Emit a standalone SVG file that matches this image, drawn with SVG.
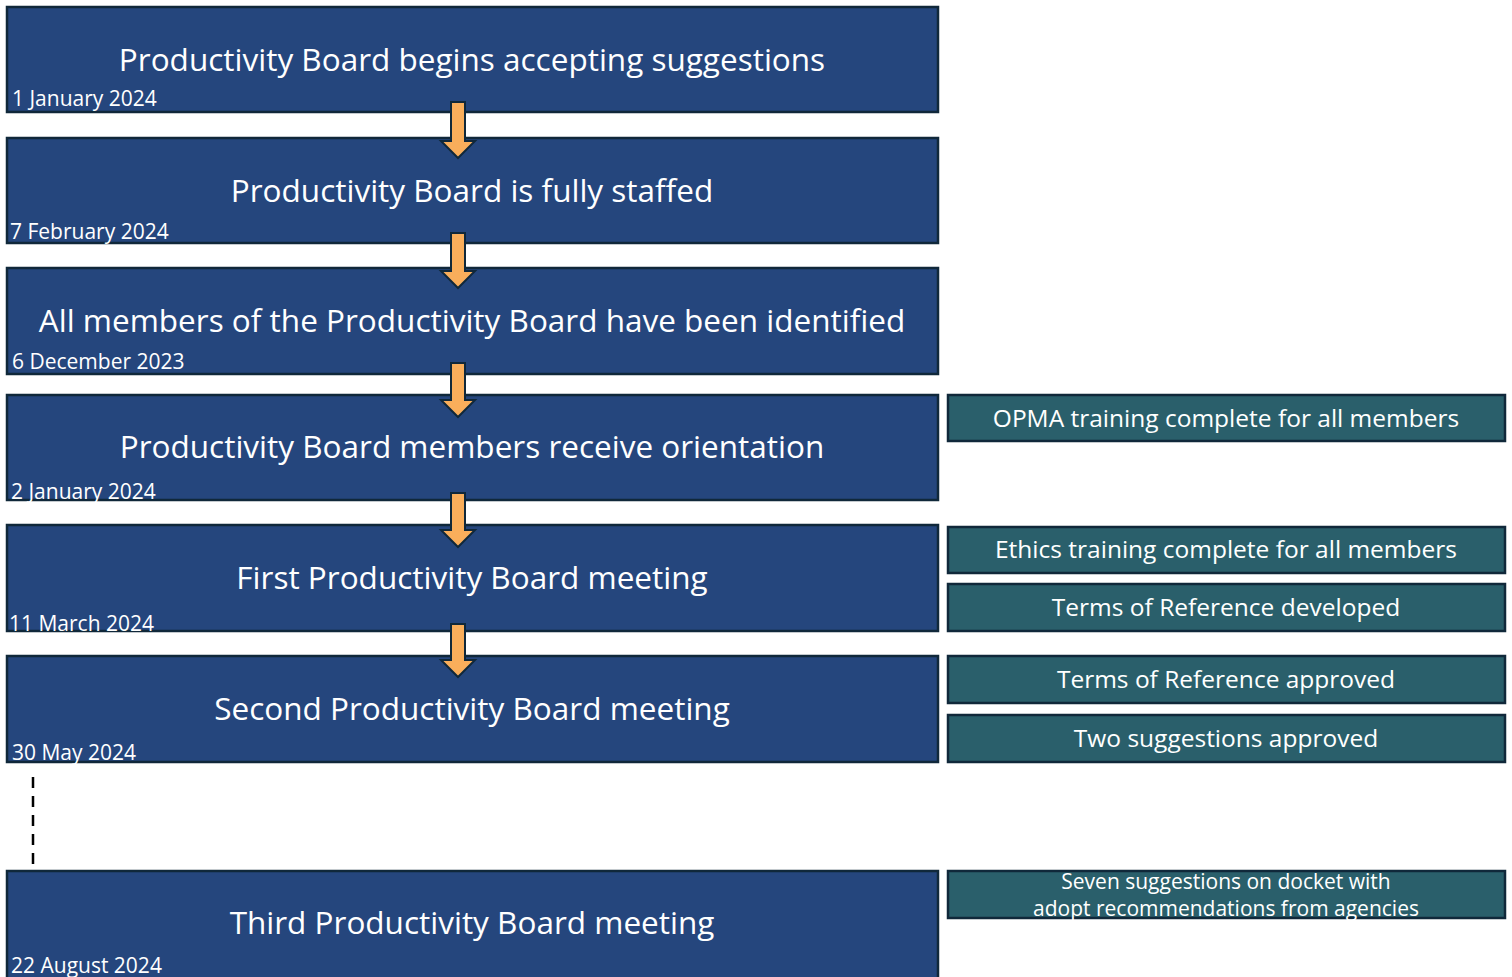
<svg xmlns="http://www.w3.org/2000/svg" width="1512" height="977" viewBox="0 0 1512 977">
<style>
.main{fill:#25467D;stroke:#10283A;stroke-width:2.5}
.side{fill:#2A5F6B;stroke:#10283A;stroke-width:2.5}
.t{font-family:"Open Sans","Liberation Sans",sans-serif;fill:#fff;text-anchor:middle;font-size:31.5px}
.d{font-family:"Open Sans","Liberation Sans",sans-serif;fill:#fff;font-size:21px}
.s{font-family:"Open Sans","Liberation Sans",sans-serif;fill:#fff;text-anchor:middle;font-size:24.5px}
.s2{font-family:"Open Sans","Liberation Sans",sans-serif;fill:#fff;text-anchor:middle;font-size:21px}
.arrow{fill:#F9AE5B;stroke:#10283A;stroke-width:2}
</style>
<rect width="1512" height="977" fill="#fff"/>
<g id="n1"><rect class="main" x="7" y="7" width="931" height="105"/><text class="t" x="472" y="71">Productivity Board begins accepting suggestions</text><text class="d" x="12" y="106">1 January 2024</text></g>
<g id="n2"><rect class="main" x="7" y="138" width="931" height="105"/><text class="t" x="472" y="202">Productivity Board is fully staffed</text><text class="d" x="10" y="239">7 February 2024</text></g>
<g id="n3"><rect class="main" x="7" y="268" width="931" height="106"/><text class="t" x="472" y="332">All members of the Productivity Board have been identified</text><text class="d" x="12" y="369">6 December 2023</text></g>
<g id="n4"><rect class="main" x="7" y="395" width="931" height="105"/><text class="t" x="472" y="458">Productivity Board members receive orientation</text><text class="d" x="11" y="499">2 January 2024</text></g>
<g id="n5"><rect class="main" x="7" y="525" width="931" height="106"/><text class="t" x="472" y="589">First Productivity Board meeting</text><text class="d" x="9" y="631">11 March 2024</text></g>
<g id="n6"><rect class="main" x="7" y="656" width="931" height="106"/><text class="t" x="472" y="720">Second Productivity Board meeting</text><text class="d" x="12" y="760">30 May 2024</text></g>
<g id="n7"><rect class="main" x="7" y="871" width="931" height="110"/><text class="t" x="472" y="934">Third Productivity Board meeting</text><text class="d" x="11" y="973">22 August 2024</text></g>
<g id="s1"><rect class="side" x="948" y="395" width="557" height="46"/><text class="s" x="1226" y="427">OPMA training complete for all members</text></g>
<g id="s2"><rect class="side" x="948" y="527" width="557" height="46"/><text class="s" x="1226" y="558">Ethics training complete for all members</text></g>
<g id="s3"><rect class="side" x="948" y="584" width="557" height="47"/><text class="s" x="1226" y="616">Terms of Reference developed</text></g>
<g id="s4"><rect class="side" x="948" y="656" width="557" height="47"/><text class="s" x="1226" y="688">Terms of Reference approved</text></g>
<g id="s5"><rect class="side" x="948" y="715" width="557" height="47"/><text class="s" x="1226" y="747">Two suggestions approved</text></g>
<g id="s6"><rect class="side" x="948" y="871" width="557" height="47"/><text class="s2" x="1226" y="889">Seven suggestions on docket with</text><text class="s2" x="1226" y="916">adopt recommendations from agencies</text></g>
<g id="connectors">
<path class="arrow" d="M451 102 H465 V141 H475 L458 158 L441 141 H451 Z"/>
<path class="arrow" d="M451 233 H465 V271 H475 L458 288 L441 271 H451 Z"/>
<path class="arrow" d="M451 363 H465 V400 H475 L458 417 L441 400 H451 Z"/>
<path class="arrow" d="M451 493 H465 V530 H475 L458 547 L441 530 H451 Z"/>
<path class="arrow" d="M451 624 H465 V660 H475 L458 677 L441 660 H451 Z"/>
<line x1="33" y1="777" x2="33" y2="867" stroke="#000" stroke-width="2.5" stroke-dasharray="11 8"/>
</g>
</svg>
